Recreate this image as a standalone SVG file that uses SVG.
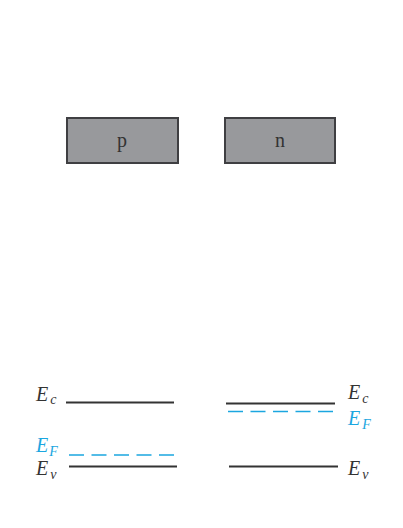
<svg xmlns="http://www.w3.org/2000/svg" width="403" height="528" viewBox="0 0 403 528">
<style>
.box{fill:#98999c;stroke:#3f3f42;stroke-width:2}
.lbl{font-family:"Liberation Serif",serif;font-size:20px;fill:#333;text-anchor:middle}
.band{stroke:#333;stroke-width:2;fill:none}
.fermi{stroke:#1ba6e0;stroke-width:1.6;stroke-dasharray:15 7.5;fill:none}
.E{font-family:"Liberation Serif",serif;font-style:italic;font-size:20px;fill:#333}
.sub{font-size:14px}
.blue{fill:#1ba6e0}
</style>
<rect width="403" height="528" fill="#fff"/>
<g id="p-block"><rect class="box" x="67" y="118" width="111" height="45"/><text class="lbl" x="122" y="147">p</text></g>
<g id="n-block"><rect class="box" x="225" y="118" width="110" height="45"/><text class="lbl" x="280" y="147">n</text></g>
<g id="connectors">
<line class="band" x1="66" y1="402.500" x2="174" y2="402.500"/>
<line class="fermi" x1="69" y1="455" x2="175" y2="455"/>
<line class="band" x1="69" y1="466.500" x2="177" y2="466.500"/>
<line class="band" x1="226" y1="403.500" x2="335" y2="403.500"/>
<line class="fermi" x1="228" y1="411.500" x2="334" y2="411.500"/>
<line class="band" x1="229" y1="466.500" x2="338" y2="466.500"/>
</g>
<g id="p-labels">
<text class="E" x="36" y="401">E<tspan class="sub" dx="2" dy="3">c</tspan></text>
<text class="E blue" x="36" y="452">E<tspan class="sub" dx="1" dy="4">F</tspan></text>
<text class="E" x="36" y="475">E<tspan class="sub" dx="2" dy="4">v</tspan></text>
</g>
<g id="n-labels">
<text class="E" x="348" y="399">E<tspan class="sub" dx="2" dy="4">c</tspan></text>
<text class="E blue" x="348" y="425">E<tspan class="sub" dx="2" dy="4">F</tspan></text>
<text class="E" x="348" y="475">E<tspan class="sub" dx="2" dy="4">v</tspan></text>
</g>
</svg>
